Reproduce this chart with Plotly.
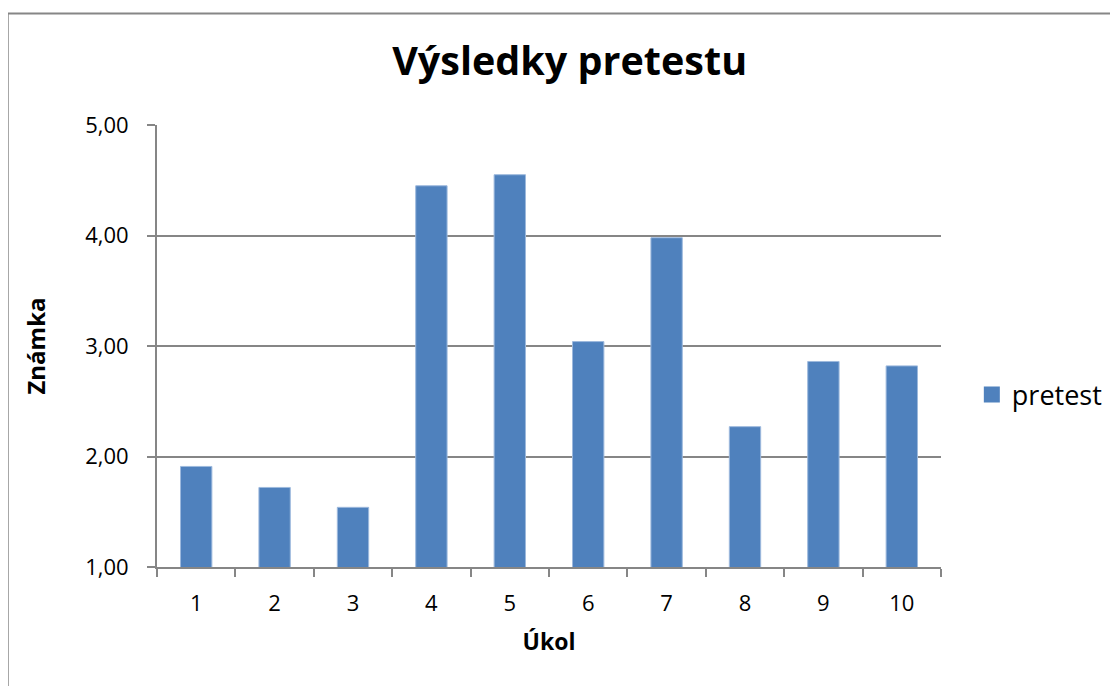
import plotly.graph_objects as go

categories = ["1", "2", "3", "4", "5", "6", "7", "8", "9", "10"]
pretest = [1.91, 1.72, 1.54, 4.45, 4.55, 3.04, 3.98, 2.27, 2.86, 2.82]
y_ticks = [1, 2, 3, 4, 5]
series_name = "pretest"

FONT = "Open Sans"
GREY = "#868686"
BLUE = "#4F81BD"

fig = go.Figure()
fig.add_trace(go.Bar(
    x=categories, y=pretest, name=series_name, showlegend=False,
    marker=dict(color=BLUE, line=dict(color="#9DB9DD", width=1)),
))
# legend entry with a larger square swatch
fig.add_trace(go.Scatter(
    x=[None], y=[None], mode="markers", name=series_name, showlegend=True,
    marker=dict(symbol="square", size=17, color=BLUE),
))

fig.update_layout(
    width=1110, height=678,
    margin=dict(l=149, r=176, t=117, b=119),
    paper_bgcolor="white", plot_bgcolor="white",
    separators=", ",
    bargap=0.6,
    showlegend=True,
    title=dict(text="<b>Výsledky pretestu</b>", x=0.506, xanchor="center",
               y=0.922, yanchor="middle",
               font=dict(family=FONT, size=39.5, color="black")),
    legend=dict(x=1.038, y=0.389, xanchor="left", yanchor="middle",
                font=dict(family=FONT, size=27, color="black"),
                itemwidth=30, tracegroupgap=0),
    font=dict(family=FONT, color="black"),
)

fig.update_xaxes(
    type="category",
    showline=True, linecolor=GREY, linewidth=2,
    ticks="outside", tickson="boundaries", ticklen=8, tickcolor=GREY, tickwidth=2,
    ticklabelstandoff=16,
    tickfont=dict(family=FONT, size=22, color="black"),
    title=dict(text="<b>Úkol</b>", font=dict(family=FONT, size=23, color="black"), standoff=17),
    showgrid=False,
)
fig.update_yaxes(
    range=[1, 5], tickvals=y_ticks, tickformat=".2f",
    showline=True, linecolor=GREY, linewidth=2,
    ticks="outside", ticklen=8, tickcolor=GREY, tickwidth=2,
    ticklabelstandoff=14,
    showgrid=True, gridcolor=GREY, gridwidth=2,
    tickfont=dict(family=FONT, size=22, color="black"),
    title=dict(text="<b>Známka</b>", font=dict(family=FONT, size=24, color="black"), standoff=33),
    zeroline=False,
)

# chart-area border (left and top visible in the reference)
fig.add_shape(type="line", xref="paper", yref="paper",
              x0=-0.1904, x1=1.3, y0=1.2523, y1=1.2523,
              line=dict(color=GREY, width=2))
fig.add_shape(type="line", xref="paper", yref="paper",
              x0=-0.1904, x1=-0.1904, y0=-0.4, y1=1.2523,
              line=dict(color=GREY, width=2))

fig.write_html("out.html")
